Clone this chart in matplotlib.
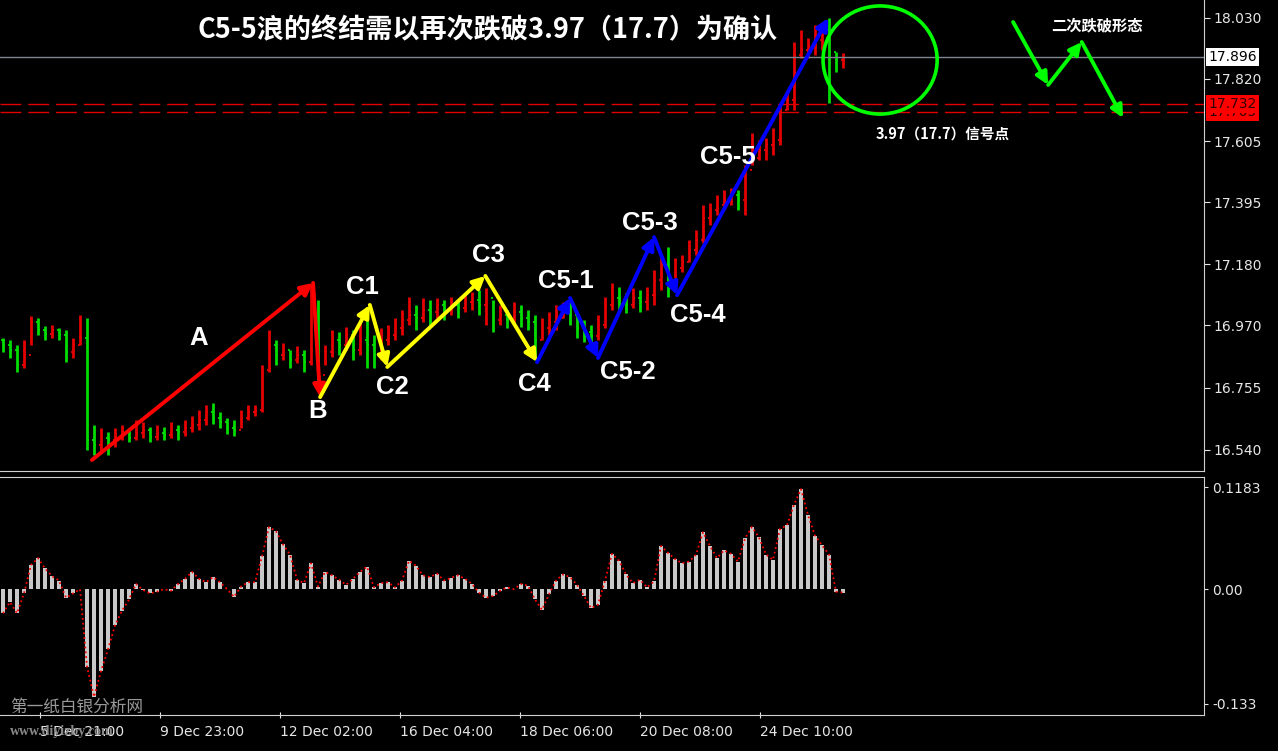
import matplotlib
matplotlib.use("Agg")
import matplotlib.pyplot as plt
import matplotlib.transforms as mtransforms
from matplotlib.patches import Ellipse
import numpy as np

# ---- price bars (H1 silver, one bar per column) ----
first_open = 16.919
closes = [16.902, 16.885, 16.833, 16.867, 16.981, 16.954, 16.940, 16.954, 16.936, 16.878,
          16.902, 16.926, 16.574, 16.557, 16.581, 16.574, 16.584, 16.602, 16.581, 16.598,
          16.609, 16.584, 16.598, 16.591, 16.609, 16.602, 16.615, 16.626, 16.643, 16.671,
          16.650, 16.636, 16.615, 16.609, 16.650, 16.671, 16.678, 16.816, 16.902, 16.867,
          16.885, 16.850, 16.867, 16.843, 16.885, 16.798, 16.878, 16.919, 16.902, 16.936,
          16.885, 16.919, 16.902, 16.867, 16.919, 16.936, 16.960, 16.988, 17.005, 16.995,
          17.023, 17.016, 17.040, 17.023, 17.040, 17.029, 17.050, 17.057, 17.040, 17.064,
          16.988, 17.005, 16.988, 17.016, 16.995, 16.981, 16.919, 16.960, 16.981, 16.995,
          17.023, 17.005, 16.960, 16.947, 16.933, 16.971, 17.040, 17.064, 17.057, 17.040,
          17.064, 17.050, 17.074, 17.126, 17.178, 17.126, 17.167, 17.188, 17.230, 17.264,
          17.340, 17.368, 17.385, 17.402, 17.419, 17.402, 17.506, 17.547, 17.575, 17.592,
          17.609, 17.713, 17.747, 17.902, 17.920, 17.937, 17.954, 17.989, 17.913, 17.885,
          17.896]
highs = [16.926, 16.919, 16.902, 16.919, 17.002, 16.995, 16.967, 16.971, 16.960, 16.954,
         16.926, 17.005, 16.995, 16.626, 16.615, 16.602, 16.615, 16.626, 16.615, 16.643,
         16.636, 16.619, 16.626, 16.619, 16.636, 16.626, 16.643, 16.657, 16.678, 16.695,
         16.702, 16.671, 16.650, 16.643, 16.678, 16.695, 16.695, 16.833, 16.954, 16.919,
         16.909, 16.885, 16.898, 16.885, 17.109, 17.057, 16.902, 16.954, 16.947, 16.964,
         16.954, 16.981, 16.988, 16.936, 16.960, 16.971, 16.995, 17.023, 17.067, 17.040,
         17.064, 17.057, 17.064, 17.057, 17.067, 17.057, 17.074, 17.085, 17.092, 17.098,
         17.057, 17.040, 17.023, 17.050, 17.040, 17.023, 17.005, 16.995, 17.016, 17.040,
         17.050, 17.050, 17.012, 16.988, 16.971, 17.005, 17.067, 17.116, 17.102, 17.081,
         17.098, 17.092, 17.102, 17.161, 17.212, 17.240, 17.202, 17.212, 17.264, 17.299,
         17.385, 17.392, 17.419, 17.437, 17.443, 17.437, 17.523, 17.633, 17.609, 17.616,
         17.650, 17.737, 17.775, 17.947, 17.989, 17.961, 18.006, 18.016, 18.030, 17.913,
         17.909]
lows = [16.878, 16.857, 16.809, 16.822, 16.902, 16.936, 16.919, 16.926, 16.919, 16.843,
        16.857, 16.902, 16.540, 16.522, 16.533, 16.522, 16.550, 16.574, 16.567, 16.574,
        16.581, 16.567, 16.574, 16.574, 16.581, 16.574, 16.588, 16.602, 16.609, 16.626,
        16.629, 16.615, 16.595, 16.588, 16.615, 16.643, 16.657, 16.671, 16.809, 16.833,
        16.850, 16.822, 16.840, 16.809, 16.833, 16.753, 16.833, 16.860, 16.867, 16.885,
        16.850, 16.867, 16.822, 16.822, 16.850, 16.902, 16.919, 16.936, 16.971, 16.954,
        16.981, 16.971, 16.995, 16.988, 17.005, 16.995, 17.016, 17.023, 17.005, 16.971,
        16.947, 16.971, 16.960, 16.971, 16.964, 16.954, 16.850, 16.919, 16.936, 16.954,
        16.995, 16.971, 16.926, 16.912, 16.895, 16.919, 16.960, 17.023, 17.023, 17.012,
        17.029, 17.016, 17.023, 17.040, 17.092, 17.067, 17.133, 17.154, 17.188, 17.212,
        17.254, 17.316, 17.350, 17.368, 17.385, 17.368, 17.350, 17.523, 17.540, 17.540,
        17.557, 17.592, 17.713, 17.713, 17.892, 17.892, 17.902, 17.920, 17.737, 17.844,
        17.857]

# ---- oscillator (histogram + signal) ----
osc = [-0.028, -0.015, -0.028, -0.005, 0.028, 0.036, 0.024, 0.015, 0.010, -0.010,
       -0.005, 0.000, -0.090, -0.125, -0.095, -0.070, -0.042, -0.025, -0.012, 0.006,
       -0.001, -0.005, -0.003, 0.000, -0.002, 0.006, 0.012, 0.020, 0.012, 0.008,
       0.014, 0.008, 0.000, -0.009, 0.003, 0.008, 0.008, 0.038, 0.072, 0.067,
       0.052, 0.040, 0.011, 0.007, 0.030, 0.003, 0.020, 0.016, 0.011, 0.005,
       0.012, 0.020, 0.026, 0.002, 0.007, 0.008, 0.002, 0.010, 0.033, 0.027,
       0.016, 0.014, 0.018, 0.010, 0.013, 0.016, 0.012, 0.006, -0.004, -0.010,
       -0.008, -0.002, 0.002, 0.000, 0.006, 0.004, -0.012, -0.024, -0.006, 0.010,
       0.017, 0.014, 0.005, -0.008, -0.022, -0.018, 0.010, 0.041, 0.033, 0.017,
       0.007, 0.011, 0.002, 0.009, 0.050, 0.042, 0.035, 0.030, 0.032, 0.040,
       0.066, 0.050, 0.036, 0.045, 0.041, 0.032, 0.059, 0.072, 0.060, 0.040,
       0.034, 0.070, 0.074, 0.098, 0.116, 0.086, 0.062, 0.051, 0.040, -0.003,
       -0.004]

# ---- axis ticks ----
price_ticks = [18.030, 17.820, 17.605, 17.395, 17.180, 16.970, 16.755, 16.540]
osc_ticks = [0.1183, 0.0, -0.133]
osc_tick_labels = ["0.1183", "0.00", "-0.133"]
time_tick_bars = [5.3, 22.4, 39.6, 56.7, 73.9, 91.0, 108.1]
time_labels = ["5 Dec 21:00", "9 Dec 23:00", "12 Dec 02:00", "16 Dec 04:00",
               "18 Dec 06:00", "20 Dec 08:00", "24 Dec 10:00"]

# ---- wave count pivots (bar index, price) ----
wave_bar = [12.7, 44.3, 45.3, 52.4, 54.9, 68.9, 76.3, 81.0, 85.0, 93.0, 96.3, 117.9]
wave_price = [16.505, 17.116, 16.722, 17.040, 16.826, 17.140, 16.843, 17.064, 16.857,
              17.274, 17.074, 18.030]
wave_colors = ["#ff0000", "#ff0000", "#ffff00", "#ffff00", "#ffff00", "#ffff00",
               "#0000ff", "#0000ff", "#0000ff", "#0000ff", "#0000ff"]
wave_labels = ["A", "B", "C1", "C2", "C3", "C4", "C5-1", "C5-2", "C5-3", "C5-4", "C5-5"]
label_bar = [27.9, 45.0, 51.3, 55.6, 69.3, 75.9, 80.4, 89.3, 92.4, 99.3, 103.6]
label_price = [16.926, 16.674, 17.102, 16.757, 17.212, 16.767, 17.123, 16.809, 17.323,
               17.005, 17.550]

# ---- projected "second break" sketch ----
proj_bar = [144.3, 149.3, 154.1, 160.0]
proj_price = [18.016, 17.799, 17.947, 17.685]

last_price = 17.896
signal_lines = [17.732, 17.705]

RED = "#e60000"
GREEN = "#00dd00"
CJK = ["Noto Sans CJK SC", "DejaVu Sans"]


def main():
    plt.rcParams["font.family"] = ["DejaVu Sans", "Noto Sans CJK SC"]

    fig = plt.figure(figsize=(12.78, 7.51), dpi=100, facecolor="black")
    ax = fig.add_axes([0.0, 0.3728, 0.9421, 0.6272], facecolor="black")
    ax2 = fig.add_axes([0.0, 0.0479, 0.9421, 0.3169], facecolor="black")

    n = len(closes)
    x = np.arange(n)
    c = np.array(closes)
    o = np.array([first_open] + closes[:-1])
    colors = np.where(c >= o, RED, GREEN)

    ax.vlines(x, lows, highs, colors=colors, lw=2.0)
    ax.hlines(o, x - 0.35, x, colors=colors, lw=1.3)
    ax.hlines(c, x, x + 0.35, colors=colors, lw=1.3)

    # horizontal levels
    ax.axhline(last_price, color="#7d8690", lw=1.0)
    for lvl in signal_lines:
        ax.axhline(lvl, color="#e00000", lw=1.0, dashes=(15, 5))

    # wave arrows
    for k, col in enumerate(wave_colors):
        ax.annotate("", xy=(wave_bar[k + 1], wave_price[k + 1]),
                    xytext=(wave_bar[k], wave_price[k]),
                    arrowprops=dict(arrowstyle="-|>", color=col, lw=2.8,
                                    mutation_scale=18, shrinkA=0, shrinkB=0),
                    zorder=5)
    for lab, bx, py in zip(wave_labels, label_bar, label_price):
        ax.text(bx, py, lab, color="white", fontsize=18.5, fontweight="bold",
                family="Liberation Sans", ha="center", va="center", zorder=6)

    # projected pattern
    for k in range(len(proj_bar) - 1):
        ax.annotate("", xy=(proj_bar[k + 1], proj_price[k + 1]),
                    xytext=(proj_bar[k], proj_price[k]),
                    arrowprops=dict(arrowstyle="-|>", color="#00ff00", lw=2.8,
                                    mutation_scale=18, shrinkA=0, shrinkB=0))
    ax.text(156.3, 18.006, "二次跌破形态", color="white", fontsize=11,
            fontweight="bold", family=CJK, ha="center", va="center")

    ax.add_patch(Ellipse((125.3, 17.885), 16.3, 0.373, fill=False,
                         ec="#00ff00", lw=2.6, zorder=6))
    ax.text(134.3, 17.633, "3.97（17.7）信号点", color="white", fontsize=10.5,
            fontweight="bold", family=CJK, ha="center", va="center")

    fig.text(488 / 1278, 1 - 30 / 751, "C5-5浪的终结需以再次跌破3.97（17.7）为确认",
             color="white", fontsize=19.5, fontweight="bold", family=CJK,
             ha="center", va="center")

    # price axis
    ax.set_xlim(-0.43, 171.57)
    ax.set_ylim(16.467, 18.092)
    ax.set_xticks([])
    ax.yaxis.tick_right()
    ax.set_yticks(price_ticks)
    ax.set_yticklabels(["%.3f" % t for t in price_ticks])
    ax.tick_params(axis="y", colors="#e6e6e6", labelsize=10, length=4, pad=3)
    for side in ["top", "left"]:
        ax.spines[side].set_visible(False)
    for side in ["right", "bottom"]:
        ax.spines[side].set_color("#d0d0d0")

    blend = mtransforms.blended_transform_factory(ax.transAxes, ax.transData)
    ax.text(1.0035, last_price, "%.3f" % last_price, transform=blend, fontsize=10,
            color="black", va="center", ha="left",
            bbox=dict(boxstyle="square,pad=0.15", fc="white", ec="none"))
    for lvl in signal_lines[::-1]:
        ax.text(1.0035, lvl, "%.3f" % lvl, transform=blend, fontsize=10,
                color="#330000", va="center", ha="left",
                bbox=dict(boxstyle="square,pad=0.15", fc="#ff0000", ec="none"))

    # oscillator panel
    ax2.bar(x, osc, width=0.6, color="#c8c8c8")
    ax2.plot(x, osc, color="#ff0000", ls=":", lw=1.3)
    ax2.set_xlim(-0.43, 171.57)
    ax2.set_ylim(-0.146, 0.130)
    ax2.yaxis.tick_right()
    ax2.set_yticks(osc_ticks)
    ax2.set_yticklabels(osc_tick_labels)
    ax2.tick_params(axis="y", colors="#e6e6e6", labelsize=10, length=3, pad=3)
    ax2.set_xticks(time_tick_bars)
    ax2.set_xticklabels(time_labels, ha="left")
    ax2.tick_params(axis="x", colors="#e6e6e6", labelsize=10, length=4,
                    direction="inout", pad=5)
    ax2.spines["left"].set_visible(False)
    for side in ["right", "bottom", "top"]:
        ax2.spines[side].set_color("#d0d0d0")

    # watermark
    fig.text(10 / 1278, 1 - 707 / 751, "第一纸白银分析网", color="#9a9a9a",
             fontsize=12, family=CJK, va="center", ha="left")
    fig.text(10 / 1278, 1 - 731 / 751, "www.diyizby.com", color="#8a8a8a",
             fontsize=10, family="Liberation Serif", fontweight="bold",
             va="center", ha="left")

    fig.savefig("out.png", dpi=100, facecolor="black")


if __name__ == "__main__":
    main()
